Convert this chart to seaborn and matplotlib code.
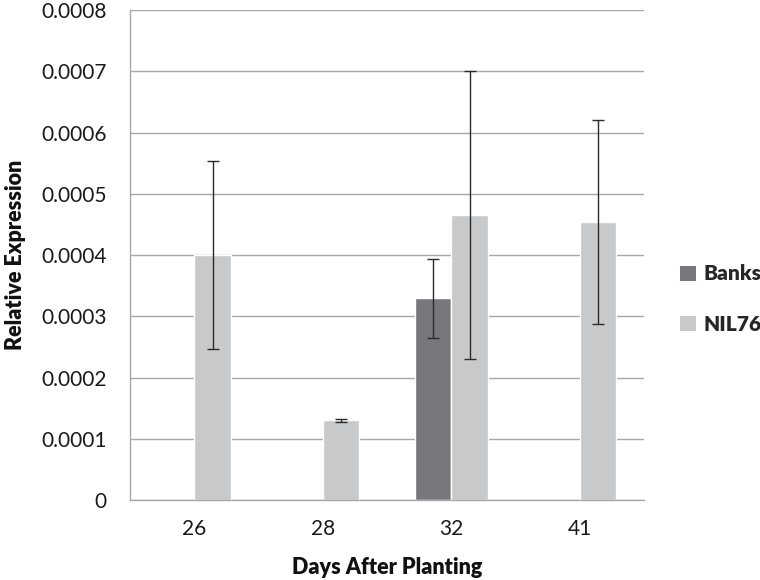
import matplotlib
matplotlib.use("Agg")
import matplotlib.pyplot as plt
from matplotlib.patches import Patch
from matplotlib.ticker import FixedLocator
import seaborn as sns
import pandas as pd

# values
days = ["26", "28", "32", "41"]
nil76_mean = [0.000400, 0.000130, 0.000466, 0.000454]
nil76_err = [0.000154, 0.0000025, 0.000235, 0.000166]
banks_days = ["32"]
banks_mean = [0.000329]
banks_err = [0.000065]
lines = ["Banks", "NIL76"]
colors = {"Banks": "#77787b", "NIL76": "#c8c9cb"}
yticks = [0, 0.0001, 0.0002, 0.0003, 0.0004, 0.0005, 0.0006, 0.0007, 0.0008]

rows = []
for d, m, e in zip(banks_days, banks_mean, banks_err):
    rows.append({"day": d, "line": "Banks", "value": m, "err": e})
for d, m, e in zip(days, nil76_mean, nil76_err):
    rows.append({"day": d, "line": "NIL76", "value": m, "err": e})
df = pd.DataFrame(rows)

sns.set_theme(style="white")
plt.rcParams["font.family"] = ["Lato", "DejaVu Sans"]

fig = plt.figure(figsize=(7.6, 5.8), dpi=100)
ax = fig.add_axes([130 / 760, 80 / 580, 514 / 760, 490 / 580])

sns.barplot(data=df, x="day", y="value", hue="line", order=days, hue_order=lines,
            palette=colors, width=0.57, errorbar=None, saturation=1,
            legend=False, ax=ax, zorder=2)

# custom error bars on top of each bar
for cont, name in zip(ax.containers, lines):
    sub = df[df["line"] == name]
    for bar, (_, r) in zip(cont, sub.iterrows()):
        cx = bar.get_x() + bar.get_width() / 2
        ax.errorbar(cx, r["value"], yerr=r["err"], fmt="none", ecolor="#2b2b2b",
                    elinewidth=1, capsize=4, capthick=1, zorder=3)

ax.set_ylim(0, 0.0008)
ax.set_xlim(-0.5, len(days) - 0.5)
ax.set_yticks(yticks)
ax.set_yticklabels(["0" if v == 0 else f"{v:.4f}" for v in yticks])
ax.yaxis.grid(True, color="#a8a8a8", linewidth=1, zorder=0)
ax.set_axisbelow(True)

for s in ["top", "right"]:
    ax.spines[s].set_visible(False)
for s in ["left", "bottom"]:
    ax.spines[s].set_color("#a8a8a8")
    ax.spines[s].set_linewidth(1)

ax.tick_params(axis="y", length=7, width=1, color="#a8a8a8", pad=10, labelsize=15, labelcolor="#1a1a1a")
ax.tick_params(axis="x", which="major", length=0, pad=14, labelsize=15, labelcolor="#1a1a1a")
ax.xaxis.set_minor_locator(FixedLocator([i - 0.5 for i in range(len(days) + 1)]))
ax.tick_params(axis="x", which="minor", length=7, width=1, color="#a8a8a8", direction="out")

ax.set_xlabel("Days After Planting", fontsize=15.5, fontweight="heavy", labelpad=13, color="#111111")
ax.set_ylabel("Relative Expression", fontsize=15.5, fontweight="heavy", labelpad=11, color="#111111")

handles = [Patch(facecolor=colors[n], edgecolor="none") for n in lines]
ax.legend(handles, lines, loc="center left", bbox_to_anchor=(1.05, 0.41), frameon=False,
          borderpad=0, handlelength=0.75, handleheight=0.75, handletextpad=0.35, labelspacing=1.5,
          prop={"weight": "heavy", "size": 15})

fig.savefig("out.png", dpi=100)
